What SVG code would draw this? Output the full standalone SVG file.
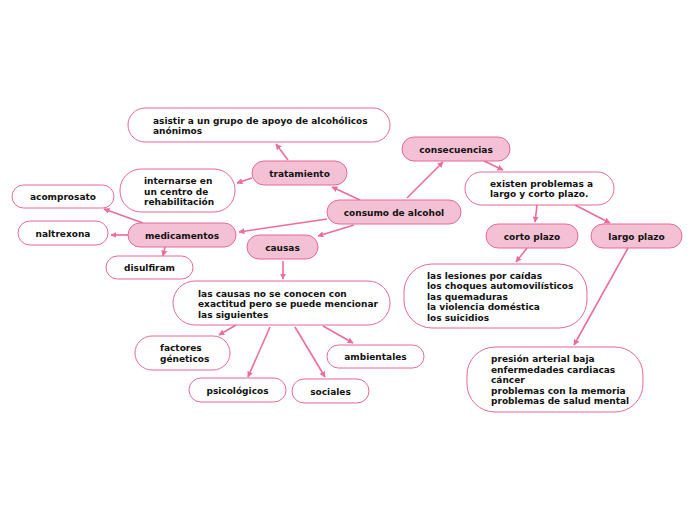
<svg xmlns="http://www.w3.org/2000/svg" width="696" height="520" viewBox="0 0 696 520">
<style>
text{font-family:"DejaVu Sans",sans-serif;font-weight:bold;font-size:9px;fill:#111}
.p{fill:#f4c0d4;stroke:#e8679a;stroke-width:1}
.w{fill:#fff;stroke:#e8679a;stroke-width:1}
.c line{stroke:#ee6b9c;stroke-width:1.6;marker-end:url(#a)}
</style>
<defs><marker id="a" viewBox="0 0 10 10" refX="9" refY="5" markerWidth="6" markerHeight="6" orient="auto" markerUnits="userSpaceOnUse"><path d="M0,0L10,5L0,10z" fill="#ee6b9c"/></marker></defs>
<rect width="696" height="520" fill="#fff"/>
<g class="c">
<line x1="360" y1="200" x2="332" y2="187"/>
<line x1="288" y1="160" x2="276" y2="144"/>
<line x1="252" y1="178" x2="237" y2="183"/>
<line x1="407" y1="198" x2="443" y2="162"/>
<line x1="327" y1="219" x2="239" y2="232"/>
<line x1="354" y1="225" x2="318" y2="236"/>
<line x1="128" y1="235" x2="111" y2="235"/>
<line x1="143" y1="223" x2="104" y2="209"/>
<line x1="165" y1="247" x2="163" y2="256"/>
<line x1="283" y1="261" x2="283" y2="279"/>
<line x1="484" y1="161" x2="503" y2="170"/>
<line x1="537" y1="205" x2="535" y2="222"/>
<line x1="575" y1="205" x2="610" y2="223"/>
<line x1="527" y1="248" x2="516" y2="262"/>
<line x1="628" y1="248" x2="574" y2="345"/>
<line x1="236" y1="325" x2="219" y2="335"/>
<line x1="270" y1="327" x2="248" y2="377"/>
<line x1="295" y1="327" x2="325" y2="377"/>
<line x1="323" y1="326" x2="353" y2="343"/>
</g>
<g id="consumo"><rect class="p" x="327" y="200" width="134" height="24" rx="12"/><text x="394" y="215.5" text-anchor="middle">consumo de alcohol</text></g>
<g id="tratamiento"><rect class="p" x="252" y="161" width="95" height="24" rx="12"/><text x="299.5" y="176.5" text-anchor="middle">tratamiento</text></g>
<g id="consecuencias"><rect class="p" x="402" y="137" width="108" height="24" rx="12"/><text x="456" y="152.5" text-anchor="middle">consecuencias</text></g>
<g id="asistir"><rect class="w" x="128" y="108" width="262" height="34" rx="17"/><text x="153" y="124">asistir a un grupo de apoyo de alcohólicos</text><text x="153" y="134">anónimos</text></g>
<g id="internarse"><rect class="w" x="120" y="169" width="115" height="43" rx="21"/><text x="144" y="184">internarse en</text><text x="144" y="195">un centro de</text><text x="144" y="205">rehabilitación</text></g>
<g id="medicamentos"><rect class="p" x="128" y="223" width="108" height="24" rx="12"/><text x="182" y="238.5" text-anchor="middle">medicamentos</text></g>
<g id="causas"><rect class="p" x="247" y="235" width="71" height="24" rx="12"/><text x="282.5" y="250.5" text-anchor="middle">causas</text></g>
<g id="acomprosato"><rect class="w" x="12" y="185" width="102" height="23" rx="11.5"/><text x="63" y="200" text-anchor="middle">acomprosato</text></g>
<g id="naltrexona"><rect class="w" x="18" y="221" width="90" height="24" rx="12"/><text x="63" y="236.5" text-anchor="middle">naltrexona</text></g>
<g id="disulfiram"><rect class="w" x="106" y="256" width="87" height="23" rx="11.5"/><text x="149.5" y="271" text-anchor="middle">disulfiram</text></g>
<g id="existen"><rect class="w" x="465" y="172" width="149" height="33" rx="16.5"/><text x="490" y="187">existen problemas a</text><text x="490" y="197">largo y corto plazo.</text></g>
<g id="corto"><rect class="p" x="486" y="224" width="92" height="24" rx="12"/><text x="532" y="239.5" text-anchor="middle">corto plazo</text></g>
<g id="largo"><rect class="p" x="591" y="224" width="91" height="24" rx="12"/><text x="636.5" y="239.5" text-anchor="middle">largo plazo</text></g>
<g id="lesiones"><rect class="w" x="404" y="264" width="183" height="64" rx="28"/><text x="427" y="279">las lesiones por caídas</text><text x="427" y="289">los choques automovilísticos</text><text x="427" y="300">las quemaduras</text><text x="427" y="310">la violencia doméstica</text><text x="427" y="321">los suicidios</text></g>
<g id="presion"><rect class="w" x="467" y="347" width="176" height="65" rx="28"/><text x="491" y="362">presión arterial baja</text><text x="491" y="373">enfermedades cardiacas</text><text x="491" y="383">cáncer</text><text x="491" y="394">problemas con la memoria</text><text x="491" y="404">problemas de salud mental</text></g>
<g id="causastxt"><rect class="w" x="173" y="281" width="217" height="44" rx="22"/><text x="198" y="297">las causas no se conocen con</text><text x="198" y="307">exactitud pero se puede mencionar</text><text x="198" y="318">las siguientes</text></g>
<g id="factores"><rect class="w" x="135" y="336" width="95" height="34" rx="17"/><text x="160" y="351">factores</text><text x="160" y="362">géneticos</text></g>
<g id="ambientales"><rect class="w" x="327" y="345" width="97" height="23" rx="11.5"/><text x="375.5" y="360" text-anchor="middle">ambientales</text></g>
<g id="psicologicos"><rect class="w" x="189" y="378" width="97" height="24" rx="12"/><text x="237.5" y="393.5" text-anchor="middle">psicológicos</text></g>
<g id="sociales"><rect class="w" x="292" y="379" width="77" height="24" rx="12"/><text x="330.5" y="394.5" text-anchor="middle">sociales</text></g>
</svg>
